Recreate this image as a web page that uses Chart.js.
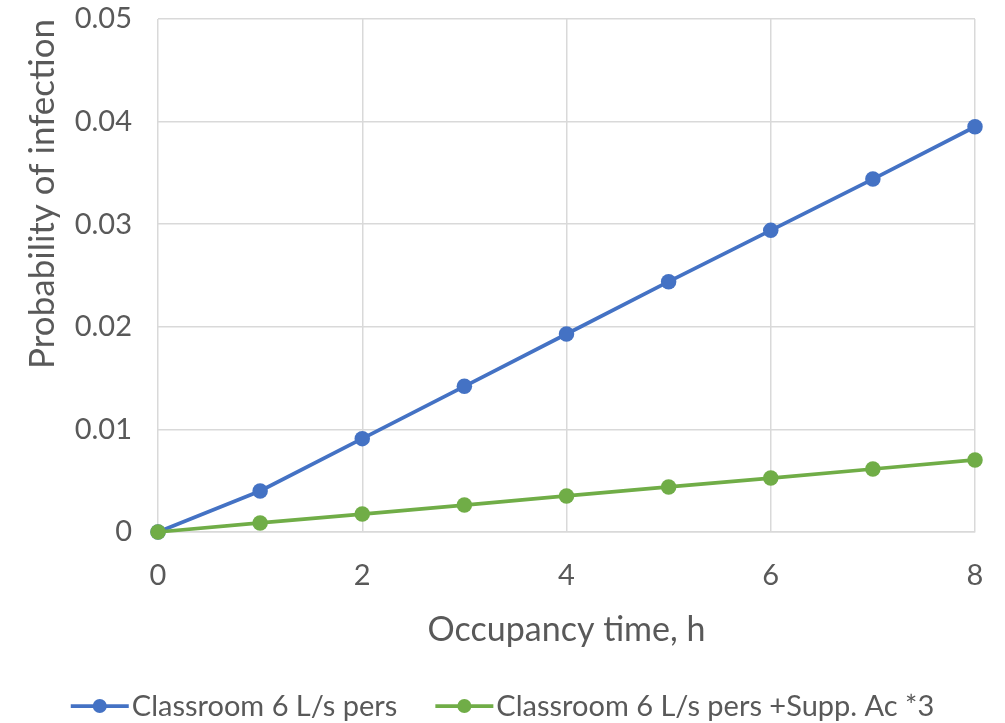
<!DOCTYPE html>
<html>
<head>
<meta charset="utf-8">
<script src="https://cdn.jsdelivr.net/npm/chart.js@4/dist/chart.umd.min.js"></script>
<style>
  html, body { margin: 0; padding: 0; background: #ffffff; }
  #wrap { width: 1005px; height: 723px; position: relative; }
</style>
</head>
<body>
<div id="wrap"><canvas id="chart" width="1005" height="723"></canvas></div>
<script>
// Occupancy time (h)
const hours = [0, 1, 2, 3, 4, 5, 6, 7, 8];
// Probability of infection per scenario
const classroomBase = [0, 0.0040, 0.0091, 0.0142, 0.0193, 0.0244, 0.0294, 0.0344, 0.0395];
const classroomSupp = [0, 0.00088, 0.00175, 0.00263, 0.00351, 0.00439, 0.00526, 0.00614, 0.00702];
const seriesNames = ['Classroom 6 L/s pers', 'Classroom 6 L/s pers +Supp. Ac *3'];
const xTickStep = 2;
const yTickStep = 0.01;

const BLUE = '#4472C4';
const GREEN = '#70AD47';
const TEXT = '#595959';
const GRID = '#D9D9D9';
const FONT = "Lato, 'Open Sans', 'DejaVu Sans', sans-serif";

function toPoints(ys) { return hours.map((h, i) => ({ x: h, y: ys[i] })); }

// Bottom legend: line-with-marker swatch followed by the series name
const bottomLegend = {
  id: 'bottomLegend',
  afterDraw(chart) {
    const ctx = chart.ctx;
    const font = '29px ' + FONT;
    const swatchW = 58, swGap = 3, itemGap = 38;
    const cy = 706;
    ctx.save();
    ctx.font = font;
    const items = chart.data.datasets.map(ds => ({ ds, w: ctx.measureText(ds.label).width }));
    const total = items.reduce((s, it) => s + swatchW + swGap + it.w, 0) + itemGap * (items.length - 1);
    let x = (chart.width - total) / 2;
    ctx.textBaseline = 'middle';
    ctx.textAlign = 'left';
    items.forEach(it => {
      const c = it.ds.borderColor;
      ctx.strokeStyle = c; ctx.lineWidth = 3.75;
      ctx.beginPath(); ctx.moveTo(x, cy); ctx.lineTo(x + swatchW, cy); ctx.stroke();
      ctx.fillStyle = c;
      ctx.beginPath(); ctx.arc(x + swatchW / 2, cy, 7, 0, Math.PI * 2); ctx.fill();
      ctx.fillStyle = TEXT;
      ctx.fillText(it.ds.label, x + swatchW + swGap, cy + 1);
      x += swatchW + swGap + it.w + itemGap;
    });
    ctx.restore();
  }
};

new Chart(document.getElementById('chart'), {
  type: 'line',
  data: {
    datasets: [
      { label: seriesNames[0], data: toPoints(classroomBase), borderColor: BLUE, backgroundColor: BLUE,
        borderWidth: 3.75, pointRadius: 7.75, pointHoverRadius: 7.75, pointBorderWidth: 0, tension: 0,
        clip: false, order: 1 },
      { label: seriesNames[1], data: toPoints(classroomSupp), borderColor: GREEN, backgroundColor: GREEN,
        borderWidth: 3.75, pointRadius: 7.75, pointHoverRadius: 7.75, pointBorderWidth: 0, tension: 0,
        clip: false, order: 0 }
    ]
  },
  options: {
    responsive: false,
    animation: false,
    layout: { padding: { left: 10, right: 30, top: 19, bottom: 63 } },
    plugins: {
      tooltip: { enabled: false },
      legend: { display: false }
    },
    scales: {
      x: {
        type: 'linear',
        min: 0, max: 8,
        ticks: { stepSize: xTickStep, color: TEXT, font: { family: FONT, size: 29 }, padding: 26 },
        grid: { color: GRID, lineWidth: 1.5, drawTicks: false },
        border: { color: GRID, width: 1.5 },
        title: { display: true, text: 'Occupancy time, h', color: TEXT, font: { family: FONT, size: 34 }, padding: { top: 8, bottom: 10 } },
        afterFit(scale) {
          scale.height = 128;
          scale.paddingLeft = 8;
          scale.paddingRight = 8;
        }
      },
      y: {
        min: 0, max: 0.05,
        ticks: { stepSize: yTickStep, color: TEXT, font: { family: FONT, size: 29 }, padding: 26,
                 callback: v => (Math.round(v * 100) / 100).toString() },
        grid: { color: GRID, lineWidth: 1.5, drawTicks: false },
        border: { display: false },
        title: { display: true, text: 'Probability of infection', align: 'end', color: TEXT,
                 font: { family: FONT, size: 35 }, padding: { top: 12, bottom: 0 } },
        afterFit(scale) {
          scale.width = 148;
          scale.paddingTop = 17;
          scale.paddingBottom = 17;
        }
      }
    }
  },
  plugins: [bottomLegend]
});
</script>
</body>
</html>
